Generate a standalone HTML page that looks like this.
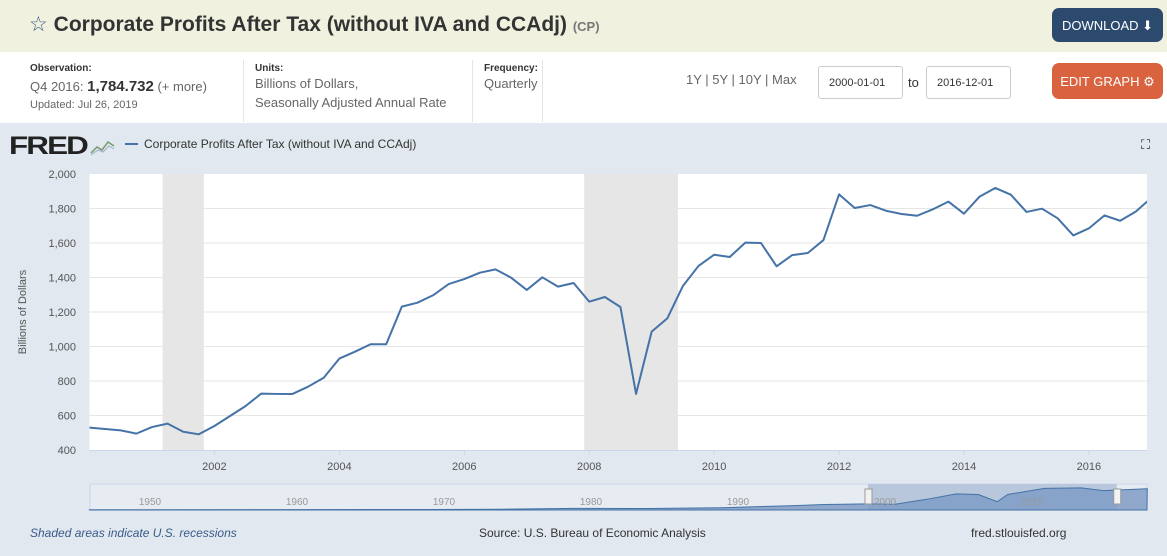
<!DOCTYPE html>
<html><head><meta charset="utf-8">
<style>
*{box-sizing:border-box;margin:0;padding:0}
body{width:1167px;height:556px;overflow:hidden;font-family:"Liberation Sans",sans-serif;background:#fff;position:relative}
.hdr{position:absolute;left:0;top:0;width:1167px;height:52px;background:#f0f1de}
.title{position:absolute;left:29px;top:12px;font-size:21px;font-weight:bold;color:#333}
.title small{font-size:13px;color:#777;font-weight:bold}
.btn{position:absolute;color:#fff;font-size:13px;border-radius:7px;text-align:center}
.info{position:absolute;top:52px;left:0;width:1167px;height:71px;background:#fff}
.lbl{position:absolute;font-size:10px;font-weight:bold;color:#333}
.val{position:absolute;font-size:13px;color:#666;line-height:19px}
.sep{position:absolute;top:60px;width:1px;height:62px;background:#e5e5e5}
.inp{position:absolute;top:66px;width:85px;height:33px;border:1px solid #ccc;border-radius:3px;font-size:11px;color:#333;padding:10px 0 0 10px;background:#fff}
.chartbg{position:absolute;top:123px;left:0;width:1167px;height:433px;background:#e1e8ef}
</style></head><body>
<div class="hdr"></div>
<div class="title"><span style="color:#3a5c8a;font-weight:normal">☆</span> Corporate Profits After Tax (without IVA and CCAdj) <small>(CP)</small></div>
<div class="btn" style="left:1052px;top:8px;width:111px;height:34px;background:#2c4a6e;padding-top:10px">DOWNLOAD ⬇</div>
<div class="info"></div>
<div class="lbl" style="left:30px;top:63px">Observation:</div>
<div class="val" style="left:30px;top:77px">Q4 2016: <b style="color:#333;font-size:15px">1,784.732</b> (+ more)</div>
<div class="val" style="left:30px;top:96px;font-size:11px">Updated: Jul 26, 2019</div>
<div class="sep" style="left:243px"></div>
<div class="lbl" style="left:255px;top:63px">Units:</div>
<div class="val" style="left:255px;top:74px">Billions of Dollars,<br>Seasonally Adjusted Annual Rate</div>
<div class="sep" style="left:472px"></div>
<div class="lbl" style="left:484px;top:63px">Frequency:</div>
<div class="val" style="left:484px;top:74px">Quarterly</div>
<div class="sep" style="left:542px"></div>
<div class="val" style="left:686px;top:70px">1Y | 5Y | 10Y | Max</div>
<div class="inp" style="left:818px">2000-01-01</div>
<div class="val" style="left:908px;top:73px;color:#333">to</div>
<div class="inp" style="left:926px">2016-12-01</div>
<div class="btn" style="left:1052px;top:63px;width:111px;height:36px;background:#d9623f;padding-top:11px">EDIT GRAPH ⚙</div>
<div class="chartbg"></div>
<svg id="svg" width="1167" height="556" style="position:absolute;left:0;top:0"></svg>
<script>
const years=[2002,2004,2006,2008,2010,2012,2014,2016];
const yTicks=[400,600,800,1000,1200,1400,1600,1800,2000];
const recStart=[2001.17,2007.92];
const recEnd=[2001.83,2009.42];
const startYear=2000;
const values=[530,522,514,495,533,553,506,491,539,597,655,727,725,725,767,819,930,970,1013,1013,1231,1254,1297,1362,1391,1428,1447,1399,1328,1401,1347,1368,1260,1287,1229,725,1086,1163,1351,1467,1532,1519,1602,1600,1465,1530,1542,1617,1882,1803,1820,1787,1768,1758,1795,1840,1770,1869,1919,1880,1780,1799,1743,1644,1685,1760,1729,1782,1862];
const navYears=[1950,1960,1970,1980,1990,2000,2010];
const navDates=[1947,1960,1970,1975,1980,1985,1990,1995,1997,2000,2001.8,2004,2006,2007.5,2008.8,2009.5,2012,2014.5,2016,2019];
const navVals=[20,30,45,70,140,130,200,380,480,530,490,930,1400,1350,725,1350,1880,1919,1680,1850];
const NS='http://www.w3.org/2000/svg';
const svg=document.getElementById('svg');
const X0=89.5,X1=1147,D0=2000,D1=2016.93,Y0=450,Y1=174;
const x=d=>X0+(d-D0)/(D1-D0)*(X1-X0);
const y=v=>Y0-(v-400)/1600*(Y0-Y1);
function mk(t,a,p){const e=document.createElementNS(NS,t);for(const k in a)e.setAttribute(k,a[k]);(p||svg).appendChild(e);return e;}
let e=mk('rect',{x:X0,y:Y1,width:X1-X0,height:Y0-Y1,fill:'#fff'});


recStart.forEach((s,i)=>{const r=mk('rect',{x:x(s),y:Y1,width:x(recEnd[i])-x(s),height:Y0-Y1,fill:'#e6e6e6'});

});
yTicks.forEach(v=>{if(v>400&&v<2000){const l=mk('line',{x1:X0,x2:X1,y1:y(v),y2:y(v),stroke:'#e6e6e6'});

}
const t=mk('text',{x:76,y:y(v)+4,'text-anchor':'end','font-size':11,fill:'#555','font-family':'Liberation Sans'});t.textContent=v.toLocaleString('en-US');

});
years.forEach(yr=>{mk('line',{x1:x(yr),x2:x(yr),y1:Y0,y2:Y0+5,stroke:'#ccd6eb'});
const t=mk('text',{x:x(yr),y:470,'text-anchor':'middle','font-size':11,fill:'#555','font-family':'Liberation Sans'});t.textContent=yr;

});
mk('line',{x1:X0,x2:X1,y1:Y0+0.5,y2:Y0+0.5,stroke:'#ccd6eb'});
const cp=mk('clipPath',{id:'cp'});mk('rect',{x:X0,y:0,width:X1-X0,height:556},cp);
const pl=mk('polyline',{points:values.map((v,i)=>x(startYear+i*0.25)+','+y(v)).join(' '),fill:'none',stroke:'#4572a7',"stroke-width":2,'clip-path':'url(#cp)','stroke-linejoin':'round'});


const yt=mk('text',{x:0,y:0,transform:'translate(26,312) rotate(-90)','text-anchor':'middle','font-size':11,fill:'#555','font-family':'Liberation Sans'});yt.textContent='Billions of Dollars';


const lg=mk('text',{x:9,y:154,'font-size':25,'font-weight':'bold',fill:'#222','font-family':'Liberation Sans','letter-spacing':'-1.5',textLength:78,lengthAdjust:'spacingAndGlyphs'});lg.textContent='FRED';


mk('polyline',{points:'91,153 97,147 102,150 108,142 114,146',fill:'none',stroke:'#7a9a6a','stroke-width':1.5});
mk('polyline',{points:'91,155 98,150 103,152 109,146 114,149',fill:'none',stroke:'#9ab0c8','stroke-width':1});
mk('line',{x1:125,x2:138,y1:144,y2:144,stroke:'#4572a7','stroke-width':2});
const le=mk('text',{x:144,y:148,'font-size':12,fill:'#333','font-family':'Liberation Sans'});le.textContent='Corporate Profits After Tax (without IVA and CCAdj)';


const fs=mk('text',{x:1141,y:149,'font-size':13,fill:'#222','font-family':'Liberation Sans'});fs.textContent='⛶';


// navigator
const N0=90,N1=1147,NT=484,NB=510;
const nx=d=>868+(d-2000)*14.7;
const ny=v=>NB-v/2000*(NB-NT-3);
mk('rect',{x:N0,y:NT,width:N1-N0,height:NB-NT,fill:'#e6ecf2',stroke:'#ccd6eb'});
mk('rect',{x:nx(2000),y:NT,width:nx(2016.92)-nx(2000),height:NB-NT,fill:'#b8c7dc'});
const area=mk('polygon',{points:N0+','+NB+' '+navDates.map((d,i)=>nx(d)+','+ny(navVals[i])).join(' ')+' '+N1+','+NB,fill:'#7f9cc5','fill-opacity':0.85,stroke:'#4572a7'});


navYears.forEach(yr=>{const t=mk('text',{x:nx(yr)+17,y:505,'text-anchor':'middle','font-size':10,fill:'#999','font-family':'Liberation Sans'});t.textContent=yr;

});
[2000,2016.92].forEach(d=>{const h=mk('rect',{x:nx(d)-3,y:489,width:7,height:15,fill:'#f2f2f2',stroke:'#999'});

});
const f1=mk('text',{x:30,y:537,'font-size':12,'font-style':'italic',fill:'#3a5c8a','font-family':'Liberation Sans'});f1.textContent='Shaded areas indicate U.S. recessions';


const f2=mk('text',{x:479,y:537,'font-size':12,fill:'#333','font-family':'Liberation Sans'});f2.textContent='Source: U.S. Bureau of Economic Analysis';


const f3=mk('text',{x:971,y:537,'font-size':12,fill:'#333','font-family':'Liberation Sans'});f3.textContent='fred.stlouisfed.org';


</script>
</body></html>
